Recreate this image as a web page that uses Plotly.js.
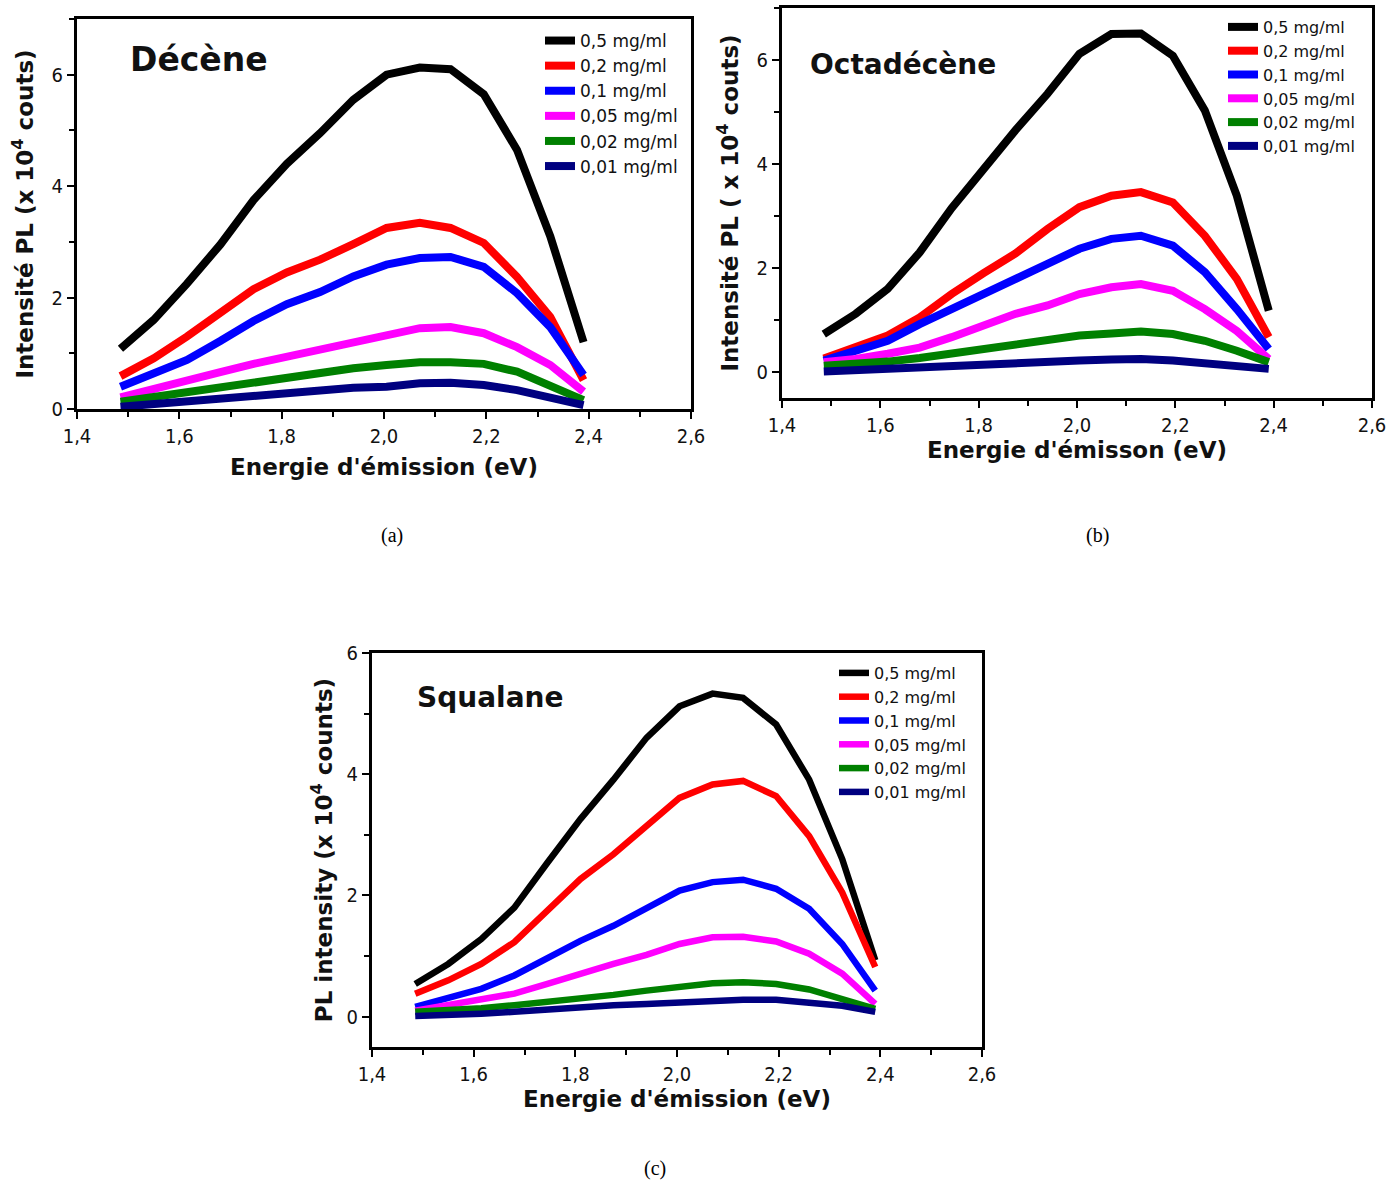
<!DOCTYPE html>
<html>
<head>
<meta charset="utf-8">
<script src="https://cdn.plot.ly/plotly-3.0.1.min.js"></script>
<style>html,body{margin:0;padding:0;background:#fff;}</style>
</head>
<body>
<div id="chart" style="width:1389px;height:1182px;"></div>
<script>
// ---- Data ----
const energy = [1.485, 1.55, 1.615, 1.68, 1.745, 1.81, 1.875, 1.94, 2.005, 2.07, 2.13, 2.195, 2.26, 2.325, 2.39];
const seriesNames = ['0,5 mg/ml', '0,2 mg/ml', '0,1 mg/ml', '0,05 mg/ml', '0,02 mg/ml', '0,01 mg/ml'];
const seriesColors = ['#000000', '#ff0000', '#0000ff', '#ff00ff', '#008000', '#000080'];

// (a) Décène
const decene05  = [1.08, 1.60, 2.25, 2.95, 3.75, 4.40, 4.95, 5.55, 6.00, 6.13, 6.10, 5.65, 4.65, 3.10, 1.20];
const decene02  = [0.59, 0.91, 1.30, 1.72, 2.15, 2.45, 2.68, 2.96, 3.25, 3.34, 3.25, 2.98, 2.37, 1.65, 0.52];
const decene01  = [0.40, 0.64, 0.88, 1.22, 1.58, 1.88, 2.10, 2.38, 2.59, 2.71, 2.73, 2.55, 2.08, 1.47, 0.61];
const decene005 = [0.21, 0.35, 0.50, 0.66, 0.81, 0.94, 1.07, 1.21, 1.33, 1.45, 1.47, 1.36, 1.11, 0.79, 0.31];
const decene002 = [0.13, 0.22, 0.31, 0.40, 0.49, 0.58, 0.66, 0.73, 0.79, 0.84, 0.84, 0.81, 0.67, 0.43, 0.16];
const decene001 = [0.04, 0.09, 0.15, 0.21, 0.25, 0.29, 0.34, 0.38, 0.40, 0.46, 0.47, 0.43, 0.34, 0.22, 0.07];

// (b) Octadécène
const octa05  = [0.73, 1.12, 1.60, 2.30, 3.15, 3.92, 4.65, 5.35, 6.12, 6.50, 6.51, 6.08, 5.03, 3.39, 1.18];
const octa02  = [0.26, 0.47, 0.70, 1.05, 1.50, 1.90, 2.28, 2.75, 3.17, 3.39, 3.46, 3.26, 2.62, 1.79, 0.67];
const octa01  = [0.22, 0.41, 0.60, 0.92, 1.22, 1.50, 1.78, 2.08, 2.37, 2.56, 2.62, 2.43, 1.92, 1.21, 0.44];
const octa005 = [0.19, 0.25, 0.35, 0.47, 0.67, 0.90, 1.12, 1.28, 1.50, 1.63, 1.69, 1.56, 1.21, 0.79, 0.25];
const octa002 = [0.12, 0.15, 0.20, 0.27, 0.35, 0.43, 0.52, 0.60, 0.70, 0.74, 0.78, 0.73, 0.60, 0.41, 0.19];
const octa001 = [0.01, 0.04, 0.07, 0.10, 0.13, 0.16, 0.18, 0.20, 0.22, 0.24, 0.25, 0.22, 0.17, 0.12, 0.06];

// (c) Squalane
const squa05  = [0.54, 0.87, 1.28, 1.80, 2.54, 3.26, 3.91, 4.60, 5.12, 5.33, 5.26, 4.82, 3.91, 2.60, 0.93];
const squa02  = [0.38, 0.60, 0.87, 1.23, 1.75, 2.27, 2.68, 3.15, 3.61, 3.83, 3.89, 3.64, 2.98, 2.05, 0.82];
const squa01  = [0.16, 0.30, 0.46, 0.68, 0.98, 1.25, 1.50, 1.80, 2.08, 2.22, 2.26, 2.11, 1.78, 1.20, 0.43];
const squa005 = [0.10, 0.19, 0.27, 0.38, 0.54, 0.71, 0.87, 1.02, 1.20, 1.31, 1.32, 1.24, 1.04, 0.71, 0.21];
const squa002 = [0.08, 0.10, 0.14, 0.19, 0.24, 0.30, 0.36, 0.43, 0.50, 0.55, 0.57, 0.54, 0.45, 0.30, 0.13];
const squa001 = [0.01, 0.02, 0.05, 0.08, 0.12, 0.15, 0.19, 0.21, 0.24, 0.27, 0.28, 0.28, 0.22, 0.18, 0.08];

const xTickVals = [1.4, 1.6, 1.8, 2.0, 2.2, 2.4, 2.6];
const yTickVals = [0, 2, 4, 6];

// ---- Build traces ----
const panels = [
  {ys: [decene05, decene02, decene01, decene005, decene002, decene001], xa: 'x',  ya: 'y',  lg: 'legend',  w: 8},
  {ys: [octa05, octa02, octa01, octa005, octa002, octa001],             xa: 'x2', ya: 'y2', lg: 'legend2', w: 8},
  {ys: [squa05, squa02, squa01, squa005, squa002, squa001],             xa: 'x3', ya: 'y3', lg: 'legend3', w: 6.5}
];
const traces = [];
panels.forEach(p => {
  p.ys.forEach((ys, i) => {
    traces.push({
      type: 'scatter', mode: 'lines', x: energy, y: ys,
      name: seriesNames[i], xaxis: p.xa, yaxis: p.ya, legend: p.lg,
      line: {color: seriesColors[i], width: p.w},
      hoverinfo: 'x+y+name'
    });
  });
});

// ---- Layout ----
const tickFont = {family: 'DejaVu Sans Condensed, DejaVu Sans, sans-serif', size: 20, color: '#111'};
const titleFont = {family: 'DejaVu Sans, sans-serif', size: 23, color: '#111'};
function xAxis(domain, anchor, title, standoff) {
  return {
    domain: domain, anchor: anchor, range: [1.4, 2.6], tickvals: xTickVals, tickformat: '.1f',
    ticks: 'outside', ticklen: 7, tickwidth: 2, tickcolor: '#000',
    minor: {tickvals: [1.5, 1.7, 1.9, 2.1, 2.3, 2.5], ticks: 'outside', ticklen: 5, tickwidth: 2, tickcolor: '#000'},
    showline: true, linewidth: 3, linecolor: '#000', mirror: true,
    showgrid: false, zeroline: false, tickfont: tickFont, automargin: false,
    title: {text: '<b>' + title + '</b>', font: titleFont, standoff: standoff}
  };
}
function yAxis(domain, anchor, range, title, standoff) {
  return {
    domain: domain, anchor: anchor, range: range, tickvals: yTickVals,
    ticks: 'outside', ticklen: 7, tickwidth: 2, tickcolor: '#000',
    minor: {tickvals: [1, 3, 5, 7], ticks: 'outside', ticklen: 5, tickwidth: 2, tickcolor: '#000'},
    showline: true, linewidth: 3, linecolor: '#000', mirror: true,
    showgrid: false, zeroline: false, tickfont: tickFont, automargin: false,
    title: {text: '<b>' + title + '</b>', font: titleFont, standoff: standoff}
  };
}
function legendAt(x, y, size) {
  return {x: x, y: y, xanchor: 'left', yanchor: 'top', bgcolor: 'rgba(0,0,0,0)', borderwidth: 0,
          tracegroupgap: 0, font: {family: 'DejaVu Sans, sans-serif', size: size, color: '#111'}};
}
const W = 1389, H = 1182;
const px = v => v / W, py = v => 1 - v / H;

const layout = {
  width: W, height: H, margin: {l: 0, r: 0, t: 0, b: 0},
  paper_bgcolor: '#fff', plot_bgcolor: '#fff', separators: ', ', showlegend: true,
  font: {family: 'DejaVu Sans, sans-serif', color: '#111'},
  xaxis:  xAxis([px(77), px(691)], 'y', "Energie d'émission (eV)", 12),
  yaxis:  yAxis([py(409), py(19)], 'x', [0, 7], 'Intensité PL (x 10<sup>4</sup> couts)', 12),
  xaxis2: xAxis([px(782), px(1372)], 'y2', "Energie d'émisson (eV)", 6),
  yaxis2: yAxis([py(398), py(8)], 'x2', [-0.5, 7], 'Intensité PL ( x 10<sup>4</sup> couts)', 12),
  xaxis3: xAxis([px(372), px(982)], 'y3', "Energie d'émission (eV)", 6),
  yaxis3: yAxis([py(1047), py(653)], 'x3', [-0.5, 6], 'PL intensity (x 10<sup>4</sup> counts)', 8),
  legend:  legendAt(px(540), py(23), 17),
  legend2: legendAt(px(1223), py(10), 16),
  legend3: legendAt(px(834), py(656), 16),
  annotations: [
    {text: '<b>Décène</b>', xref: 'x domain', yref: 'y domain', x: 0.083, y: 0.897, xanchor: 'left', yanchor: 'middle', showarrow: false, font: {family: 'DejaVu Sans, sans-serif', size: 33, color: '#111'}},
    {text: '<b>Octadécène</b>', xref: 'x2 domain', yref: 'y2 domain', x: 0.044, y: 0.856, xanchor: 'left', yanchor: 'middle', showarrow: false, font: {family: 'DejaVu Sans, sans-serif', size: 28, color: '#111'}},
    {text: '<b>Squalane</b>', xref: 'x3 domain', yref: 'y3 domain', x: 0.0705, y: 0.888, xanchor: 'left', yanchor: 'middle', showarrow: false, font: {family: 'DejaVu Sans, sans-serif', size: 28, color: '#111'}},
    {text: '(a)', xref: 'paper', yref: 'paper', x: px(392), y: py(535), xanchor: 'center', yanchor: 'middle', showarrow: false, font: {family: 'Liberation Serif, serif', size: 20, color: '#000'}},
    {text: '(b)', xref: 'paper', yref: 'paper', x: px(1097), y: py(535), xanchor: 'center', yanchor: 'middle', showarrow: false, font: {family: 'Liberation Serif, serif', size: 20, color: '#000'}},
    {text: '(c)', xref: 'paper', yref: 'paper', x: px(655), y: py(1168), xanchor: 'center', yanchor: 'middle', showarrow: false, font: {family: 'Liberation Serif, serif', size: 20, color: '#000'}}
  ]
};

Plotly.newPlot('chart', traces, layout, {displayModeBar: false, staticPlot: false});
</script>
</body>
</html>
